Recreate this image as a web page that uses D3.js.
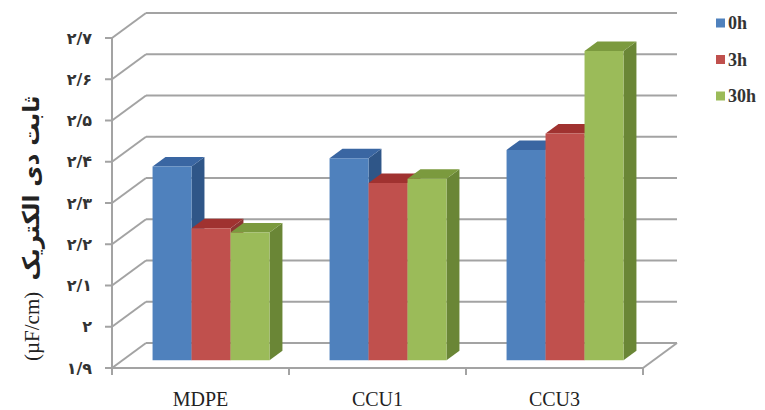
<!DOCTYPE html>
<html>
<head>
<meta charset="utf-8">
<script src="https://cdn.jsdelivr.net/npm/d3@7"></script>
<style>
  html, body { margin: 0; padding: 0; background: #fff; }
  svg { display: block; }
</style>
</head>
<body>
<svg id="chart" width="765" height="410"></svg>
<script>
// Dielectric constant of each sample after 0, 3 and 30 hours
const categories = ["MDPE", "CCU1", "CCU3"];
const seriesNames = ["0h", "3h", "30h"];
const values0h = [2.37, 2.39, 2.41];
const values3h = [2.22, 2.33, 2.45];
const values30h = [2.21, 2.34, 2.65];
const yTickValues = [1.9, 2.0, 2.1, 2.2, 2.3, 2.4, 2.5, 2.6, 2.7];
const yTickLabels = ["۱/۹", "۲", "۲/۱", "۲/۲", "۲/۳", "۲/۴", "۲/۵", "۲/۶", "۲/۷"];
const yTitle = "ثابت دی الکتریک";
const yUnit = "(µF/cm)";

const seriesValues = [values0h, values3h, values30h];

// face colours per series: front, top, side
const palette = [
  { front: "#4f81bd", top: "#3a66a2", side: "#2f5688" },
  { front: "#c0504d", top: "#a03230", side: "#8c3532" },
  { front: "#9bbb59", top: "#7b9a3e", side: "#6a8636" }
];

const svg = d3.select("#chart");

// plot frame: front plane and the oblique depth offset
const plotLeft = 112, plotRight = 643, plotBottom = 368, plotTop = 38;
const depthX = 34, depthY = -25;
const barFront = 0.31, barBack = 0.69;

const y = d3.scaleLinear().domain([1.9, 2.7]).range([plotBottom, plotTop]);
const x0 = d3.scaleBand().domain(categories).range([plotLeft, plotRight]).padding(0);
const x1 = d3.scaleBand().domain(seriesNames).range([0, x0.bandwidth()])
  .paddingInner(0).paddingOuter(0.77);

const P = (px, py, d) => [px + d * depthX, py + d * depthY];
const pts = arr => arr.map(p => p.join(",")).join(" ");

const grid = svg.append("g")
  .attr("stroke", "#a3a3a3").attr("stroke-width", 2).attr("fill", "none");

// back-wall gridlines and left-wall diagonals
yTickValues.forEach(v => {
  const b0 = P(plotLeft, y(v), 1), b1 = P(plotRight, y(v), 1);
  grid.append("line").attr("x1", b0[0]).attr("y1", b0[1]).attr("x2", b1[0]).attr("y2", b1[1]);
  grid.append("line").attr("x1", plotLeft).attr("y1", y(v)).attr("x2", b0[0]).attr("y2", b0[1]);
});

// floor outline: front edge and right edge
const fr = P(plotRight, plotBottom, 1);
grid.append("line").attr("x1", plotLeft).attr("y1", plotBottom).attr("x2", plotRight).attr("y2", plotBottom);
grid.append("line").attr("x1", plotRight).attr("y1", plotBottom).attr("x2", fr[0]).attr("y2", fr[1]);

// vertical value axis with ticks
grid.append("line").attr("x1", plotLeft).attr("y1", plotTop).attr("x2", plotLeft).attr("y2", plotBottom);
yTickValues.forEach(v => {
  grid.append("line").attr("x1", plotLeft - 7).attr("y1", y(v)).attr("x2", plotLeft).attr("y2", y(v));
});

// category ticks on the front floor edge
const catEdges = categories.map(c => x0(c)).concat([plotRight]);
catEdges.forEach(cx => {
  grid.append("line").attr("x1", cx).attr("y1", plotBottom).attr("x2", cx).attr("y2", plotBottom + 7);
});

// tick labels
svg.append("g").selectAll("text").data(yTickValues).join("text")
  .attr("x", 92).attr("y", d => y(d)).attr("dy", "0.35em")
  .attr("text-anchor", "end")
  .attr("font-family", "DejaVu Sans").attr("font-weight", "bold")
  .attr("font-size", 16).attr("fill", "#333")
  .text((d, i) => yTickLabels[i]);

// 3D columns
const bars = svg.append("g");
categories.forEach((cat, ci) => {
  seriesNames.forEach((s, si) => {
    const v = seriesValues[si][ci];
    const xl = x0(cat) + x1(s), xr = xl + x1.bandwidth();
    const yt = y(v), yb = y(1.9);
    const c = palette[si];
    const fTL = P(xl, yt, barFront), fTR = P(xr, yt, barFront);
    const fBL = P(xl, yb, barFront), fBR = P(xr, yb, barFront);
    const bTL = P(xl, yt, barBack), bTR = P(xr, yt, barBack), bBR = P(xr, yb, barBack);
    const g = bars.append("g");
    g.append("polygon").attr("points", pts([fTR, bTR, bBR, fBR])).attr("fill", c.side);
    g.append("polygon").attr("points", pts([fTL, fTR, bTR, bTL])).attr("fill", c.top);
    g.append("polygon").attr("points", pts([fTL, fTR, fBR, fBL])).attr("fill", c.front);
  });
});

// category labels
svg.append("g").selectAll("text").data(categories).join("text")
  .attr("x", d => x0(d) + x0.bandwidth() / 2).attr("y", 406)
  .attr("text-anchor", "middle")
  .attr("font-family", "Liberation Serif").attr("font-size", 20).attr("fill", "#222")
  .text(d => d);

// value axis title
svg.append("text")
  .attr("transform", "translate(39,188) rotate(-90)")
  .attr("text-anchor", "middle")
  .attr("direction", "rtl")
  .attr("font-family", "DejaVu Sans").attr("font-weight", "bold")
  .attr("font-size", 23).attr("fill", "#222")
  .text(yTitle);
svg.append("text")
  .attr("transform", "translate(39,361) rotate(-90)")
  .attr("text-anchor", "start")
  .attr("font-family", "Liberation Serif")
  .attr("font-size", 21).attr("fill", "#222")
  .text(yUnit);

// legend
const legend = svg.append("g");
seriesNames.forEach((s, i) => {
  const ly = 23 + i * 36.5;
  legend.append("rect").attr("x", 716).attr("y", ly - 4.5).attr("width", 9).attr("height", 9)
    .attr("fill", palette[i].front);
  legend.append("text").attr("x", 728).attr("y", ly).attr("dy", "0.35em")
    .attr("font-family", "Liberation Serif").attr("font-weight", "bold")
    .attr("font-size", 18).attr("fill", "#333")
    .text(s);
});
</script>
</body>
</html>
